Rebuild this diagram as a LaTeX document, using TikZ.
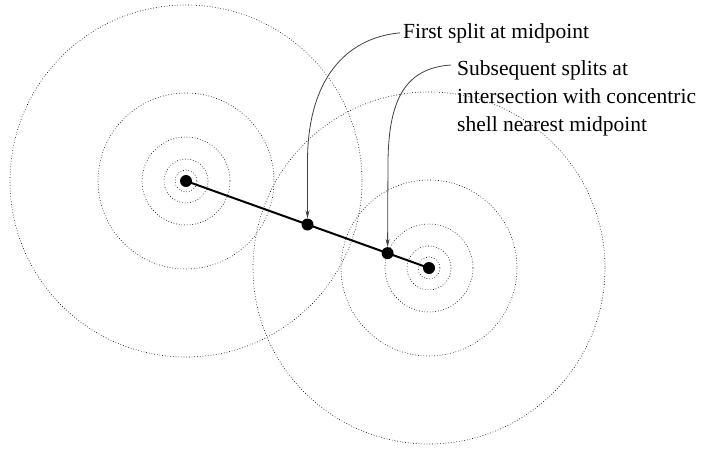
\documentclass[tikz,border=0pt]{standalone}
\usepackage{fontspec}
\setmainfont{Liberation Serif}
\usepackage{tikz}
\usetikzlibrary{positioning,arrows.meta,calc}
\usepackage{xcolor}

\begin{document}
\begin{tikzpicture}[x=1pt, y=-1pt,
    dot/.style={circle, fill=black, inner sep=0pt, minimum size=12pt},
    shell/.style={line width=0.6pt, dash pattern=on 0.7pt off 2pt},
    callout/.style={black!75, line width=0.8pt, -{Stealth[length=8pt, width=4pt]}},
    label/.style={font=\fontsize{21.5}{28}\selectfont, inner sep=3pt}]
  \useasboundingbox (0,0) rectangle (702,450);
  % Atoms
  \node[dot] (A) at (186,181) {};
  \node[dot] (B) at (429,268) {};
  % Concentric shells
  \foreach \r in {11, 22, 44, 88, 176} {
    \draw[shell] (A.center) circle[radius=\r];
    \draw[shell] (B.center) circle[radius=\r];
  }
  % Bond and split points
  \draw[line width=2pt] (A.center) -- (B.center);
  \node[dot] (M) at ($(A.center)!0.5!(B.center)$) {};
  \node[dot] (S) at ($(B.center)!44pt!(A.center)$) {};
  % Labels (base of a multi-line node is its last line)
  \node[label, anchor=base west] (first) at (400,38) {First split at midpoint};
  \node[label, anchor=base west, align=left] (second) at (454,131)
    {Subsequent splits at\\intersection with concentric\\shell nearest midpoint};
  \draw[callout] (first.west) .. controls (345,38) and (308,80) .. (307.5,160) -- (M.north);
  \draw[callout] ($(second.base west)+(-3,-66)$) .. controls (405,68) and (389,100) .. (388,160) -- (S.north);
\end{tikzpicture}
\end{document}
